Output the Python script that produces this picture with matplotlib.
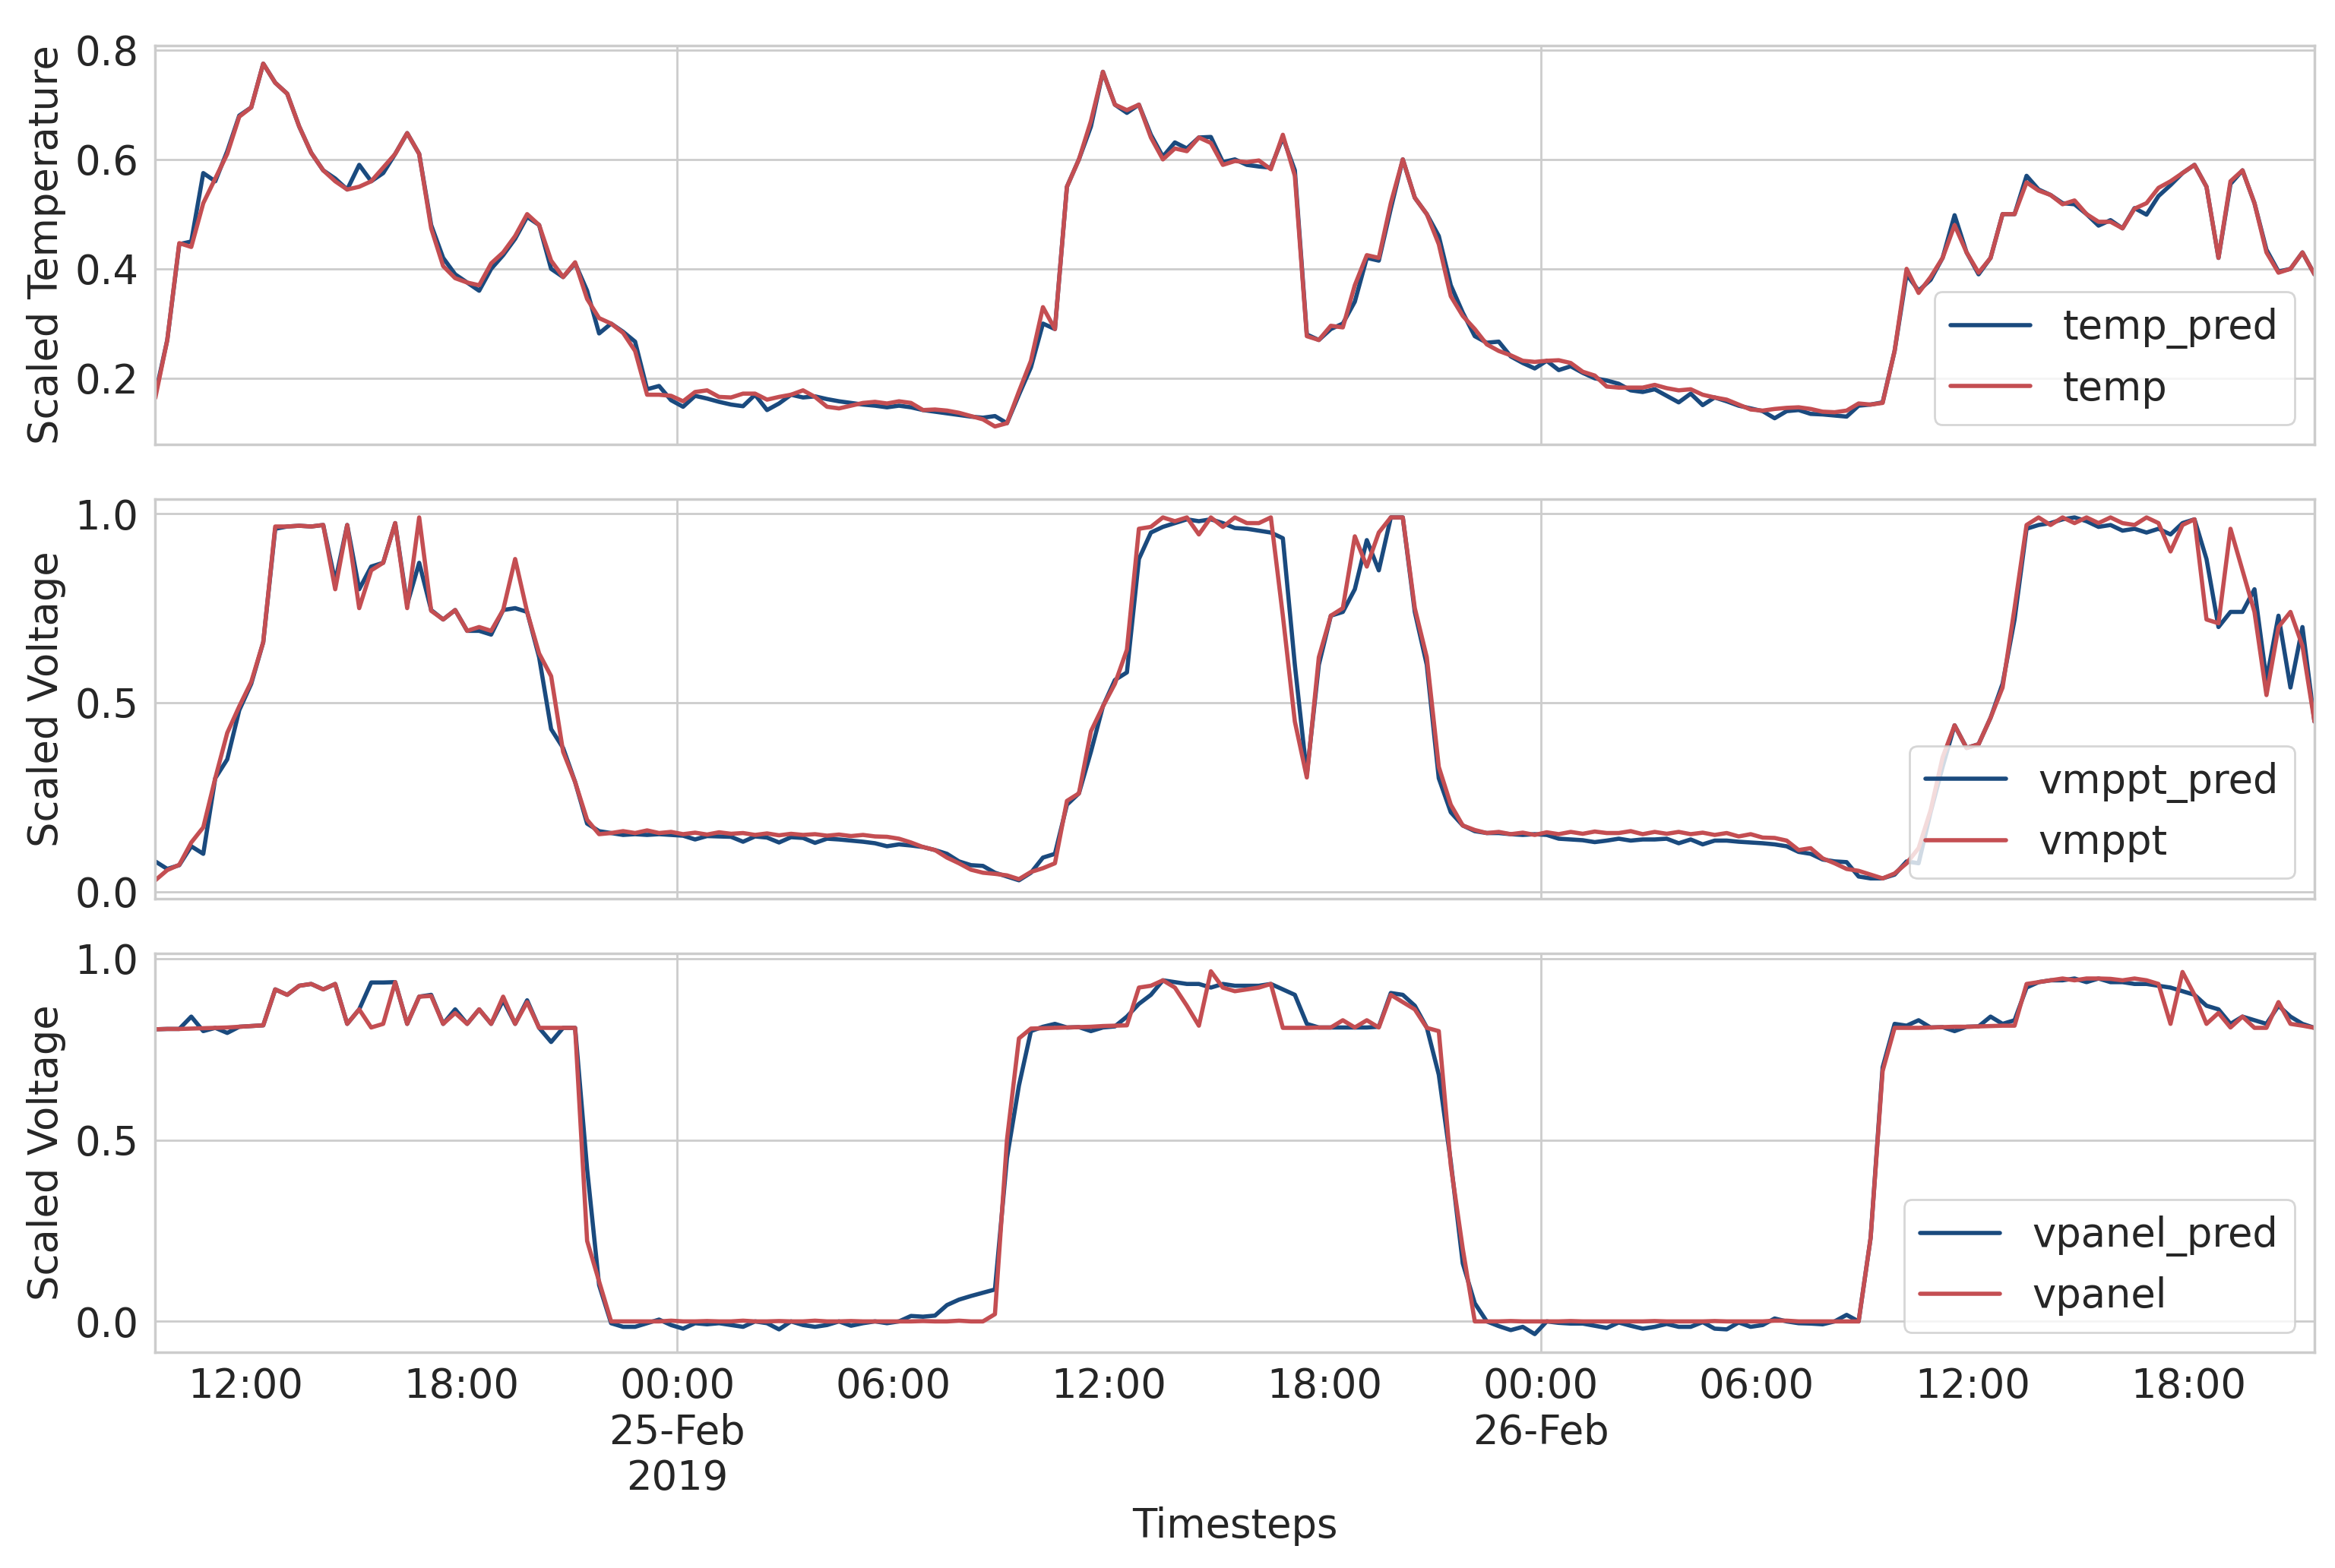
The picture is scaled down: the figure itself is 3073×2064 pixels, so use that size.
import matplotlib
matplotlib.use('Agg')
import matplotlib.pyplot as plt
import matplotlib.dates as mdates
from matplotlib.ticker import MultipleLocator, FuncFormatter
import pandas as pd
import seaborn as sns

# 20-minute samples, 24 Feb 2019 09:30 -> 26 Feb 2019 21:30
times = pd.date_range('2019-02-24 09:30', periods=181, freq='20min')

temp = [
    0.164, 0.27, 0.447, 0.44, 0.52, 0.565, 0.61, 0.678, 0.695, 0.775,
    0.74, 0.72, 0.66, 0.612, 0.58, 0.56, 0.545, 0.55, 0.56, 0.585,
    0.61, 0.648, 0.61, 0.474, 0.405, 0.383, 0.375, 0.37, 0.41, 0.43,
    0.46, 0.50, 0.48, 0.415, 0.385, 0.412, 0.345, 0.31, 0.30, 0.283,
    0.25, 0.17, 0.17, 0.168, 0.158, 0.175, 0.178, 0.166, 0.165, 0.172,
    0.172, 0.161, 0.166, 0.170, 0.178, 0.166, 0.148, 0.145, 0.150, 0.155,
    0.157, 0.154, 0.158, 0.155, 0.142, 0.143, 0.141, 0.137, 0.131, 0.125,
    0.112, 0.118, 0.176, 0.232, 0.33, 0.29, 0.55, 0.60, 0.67, 0.76,
    0.70, 0.69, 0.70, 0.64, 0.60, 0.62, 0.615, 0.64, 0.63, 0.59,
    0.597, 0.595, 0.598, 0.582, 0.645, 0.57, 0.277, 0.27, 0.296, 0.293,
    0.37, 0.425, 0.42, 0.52, 0.60, 0.53, 0.50, 0.445, 0.35, 0.314,
    0.29, 0.262, 0.250, 0.242, 0.232, 0.230, 0.232, 0.233, 0.228, 0.212,
    0.205, 0.185, 0.183, 0.183, 0.183, 0.188, 0.182, 0.178, 0.180, 0.170,
    0.165, 0.161, 0.152, 0.143, 0.141, 0.144, 0.146, 0.147, 0.144, 0.139,
    0.138, 0.141, 0.154, 0.152, 0.155, 0.25, 0.40, 0.356, 0.385, 0.42,
    0.48, 0.43, 0.393, 0.42, 0.50, 0.50, 0.558, 0.543, 0.535, 0.518,
    0.525, 0.50, 0.486, 0.486, 0.474, 0.51, 0.52, 0.548, 0.56, 0.575,
    0.59, 0.55, 0.42, 0.56, 0.58, 0.52, 0.43, 0.393, 0.40, 0.43, 0.39,
]
temp_pred = [
    0.17, 0.27, 0.445, 0.45, 0.575, 0.56, 0.615, 0.68, 0.695, 0.775,
    0.74, 0.72, 0.66, 0.612, 0.58, 0.565, 0.545, 0.59, 0.56, 0.575,
    0.61, 0.648, 0.61, 0.48, 0.42, 0.39, 0.375, 0.36, 0.40, 0.425,
    0.455, 0.495, 0.48, 0.40, 0.385, 0.41, 0.36, 0.282, 0.30, 0.285,
    0.267, 0.18, 0.186, 0.16, 0.148, 0.168, 0.163, 0.157, 0.152, 0.149,
    0.170, 0.142, 0.154, 0.170, 0.165, 0.167, 0.162, 0.158, 0.155, 0.152,
    0.150, 0.147, 0.150, 0.147, 0.142, 0.139, 0.136, 0.133, 0.130, 0.128,
    0.131, 0.118, 0.17, 0.22, 0.30, 0.29, 0.55, 0.60, 0.66, 0.76,
    0.70, 0.685, 0.70, 0.645, 0.605, 0.631, 0.62, 0.64, 0.641, 0.595,
    0.60, 0.59, 0.587, 0.585, 0.64, 0.58, 0.28, 0.27, 0.29, 0.30,
    0.34, 0.42, 0.415, 0.51, 0.60, 0.53, 0.50, 0.46, 0.37, 0.32,
    0.277, 0.265, 0.267, 0.24, 0.228, 0.218, 0.232, 0.215, 0.222, 0.21,
    0.20, 0.196, 0.190, 0.178, 0.175, 0.180, 0.168, 0.156, 0.172, 0.151,
    0.165, 0.158, 0.150, 0.145, 0.140, 0.127, 0.140, 0.142, 0.135, 0.134,
    0.132, 0.130, 0.150, 0.152, 0.156, 0.25, 0.39, 0.36, 0.38, 0.42,
    0.498, 0.43, 0.39, 0.42, 0.50, 0.50, 0.57, 0.545, 0.535, 0.52,
    0.518, 0.50, 0.479, 0.489, 0.474, 0.511, 0.499, 0.533, 0.553, 0.575,
    0.59, 0.55, 0.42, 0.555, 0.58, 0.52, 0.435, 0.395, 0.40, 0.43, 0.39,
]

vmppt = [
    0.03, 0.057, 0.071, 0.13, 0.17, 0.30, 0.42, 0.49, 0.555, 0.66,
    0.966, 0.966, 0.968, 0.966, 0.97, 0.80, 0.97, 0.75, 0.85, 0.87,
    0.975, 0.75, 0.99, 0.743, 0.72, 0.745, 0.69, 0.70, 0.69, 0.745,
    0.88, 0.74, 0.63, 0.57, 0.37, 0.29, 0.19, 0.152, 0.155, 0.16,
    0.155, 0.162, 0.155, 0.158, 0.152, 0.156, 0.151, 0.157, 0.153, 0.155,
    0.150, 0.154, 0.149, 0.153, 0.150, 0.152, 0.148, 0.151, 0.147, 0.150,
    0.146, 0.145, 0.14, 0.13, 0.118, 0.11, 0.09, 0.075, 0.058, 0.05,
    0.047, 0.043, 0.033, 0.052, 0.062, 0.075, 0.24, 0.26, 0.424, 0.49,
    0.55, 0.64, 0.96, 0.965, 0.99, 0.98, 0.99, 0.945, 0.99, 0.965,
    0.99, 0.975, 0.975, 0.99, 0.73, 0.45, 0.302, 0.62, 0.73, 0.75,
    0.94, 0.86, 0.95, 0.99, 0.99, 0.75, 0.62, 0.33, 0.23, 0.175,
    0.163, 0.155, 0.158, 0.152, 0.156, 0.150, 0.157, 0.152, 0.158, 0.153,
    0.159, 0.155, 0.155, 0.16, 0.152, 0.158, 0.153, 0.158, 0.152, 0.156,
    0.15, 0.155, 0.146, 0.152, 0.143, 0.142, 0.135, 0.11, 0.115, 0.088,
    0.075, 0.06, 0.055, 0.045, 0.035, 0.048, 0.075, 0.115, 0.215, 0.355,
    0.44, 0.38, 0.39, 0.46, 0.54, 0.75, 0.97, 0.99, 0.97, 0.99,
    0.975, 0.99, 0.975, 0.99, 0.975, 0.97, 0.99, 0.975, 0.90, 0.97,
    0.985, 0.72, 0.71, 0.96, 0.85, 0.74, 0.52, 0.70, 0.74, 0.65, 0.45,
]
vmppt_pred = [
    0.08, 0.06, 0.07, 0.12, 0.10, 0.30, 0.35, 0.48, 0.55, 0.66,
    0.96, 0.966, 0.968, 0.966, 0.97, 0.82, 0.97, 0.80, 0.86, 0.87,
    0.975, 0.76, 0.87, 0.745, 0.72, 0.745, 0.69, 0.69, 0.68, 0.745,
    0.75, 0.74, 0.62, 0.43, 0.38, 0.29, 0.18, 0.16, 0.155, 0.15,
    0.152, 0.150, 0.152, 0.150, 0.148, 0.138, 0.147, 0.146, 0.145, 0.132,
    0.146, 0.143, 0.130, 0.144, 0.142, 0.129, 0.140, 0.138, 0.135, 0.132,
    0.128, 0.12, 0.125, 0.122, 0.118, 0.11, 0.10, 0.08, 0.07, 0.068,
    0.05, 0.04, 0.03, 0.05, 0.09, 0.1, 0.23, 0.26, 0.37, 0.49,
    0.56, 0.58, 0.88, 0.95, 0.965, 0.975, 0.985, 0.98, 0.985, 0.975,
    0.962, 0.96, 0.955, 0.95, 0.935, 0.60, 0.31, 0.60, 0.73, 0.74,
    0.80, 0.93, 0.85, 0.99, 0.99, 0.74, 0.60, 0.30, 0.21, 0.175,
    0.16, 0.155, 0.155, 0.152, 0.150, 0.152, 0.150, 0.140, 0.138, 0.136,
    0.131, 0.135, 0.14, 0.135, 0.138, 0.138, 0.14, 0.128, 0.138, 0.125,
    0.135, 0.135, 0.132, 0.13, 0.128, 0.125, 0.12, 0.105, 0.10, 0.085,
    0.08, 0.078, 0.04, 0.035, 0.035, 0.045, 0.08, 0.075, 0.21, 0.33,
    0.44, 0.38, 0.39, 0.46, 0.55, 0.72, 0.96, 0.97, 0.975, 0.985,
    0.99, 0.98, 0.965, 0.97, 0.955, 0.96, 0.95, 0.96, 0.945, 0.975,
    0.985, 0.88, 0.70, 0.74, 0.74, 0.80, 0.56, 0.73, 0.54, 0.70, 0.45,
]

vpanel = [
    0.805, 0.806, 0.806, 0.807, 0.808, 0.809, 0.810, 0.812, 0.814, 0.816,
    0.915, 0.90, 0.925, 0.93, 0.915, 0.93, 0.82, 0.86, 0.81, 0.82,
    0.935, 0.82, 0.895, 0.897, 0.82, 0.85, 0.82, 0.86, 0.82, 0.895,
    0.82, 0.88, 0.809, 0.809, 0.809, 0.809, 0.222, 0.11, 0.0, 0.0,
    0.0, 0.0, 0.0, 0.002, 0.0, 0.0, 0.001, 0.0, 0.0, 0.002,
    0.0, 0.0, 0.001, 0.0, 0.0, 0.002, 0.0, 0.0, 0.001, 0.0,
    0.0, 0.0, 0.0, 0.0, 0.001, 0.0, 0.0, 0.002, 0.0, 0.0,
    0.02, 0.50, 0.78, 0.807, 0.808, 0.809, 0.81, 0.811, 0.812, 0.814,
    0.815, 0.816, 0.92, 0.925, 0.94, 0.92, 0.87, 0.815, 0.965, 0.92,
    0.91, 0.915, 0.92, 0.93, 0.809, 0.809, 0.809, 0.81, 0.81, 0.83,
    0.81, 0.83, 0.81, 0.90, 0.88, 0.86, 0.809, 0.80, 0.43, 0.20,
    0.0, 0.0, 0.0, 0.001, 0.0, 0.0, 0.0, 0.0, 0.001, 0.0,
    0.0, 0.0, 0.0, 0.0, 0.0, 0.001, 0.0, 0.0, 0.0, 0.0,
    0.001, 0.0, 0.0, 0.0, 0.0, 0.002, 0.002, 0.0, 0.0, 0.0,
    0.0, 0.0, 0.0, 0.23, 0.69, 0.809, 0.809, 0.809, 0.81, 0.811,
    0.812, 0.812, 0.813, 0.814, 0.815, 0.815, 0.93, 0.935, 0.94, 0.945,
    0.94, 0.945, 0.945, 0.944, 0.94, 0.945, 0.94, 0.93, 0.82, 0.963,
    0.90, 0.82, 0.85, 0.81, 0.84, 0.809, 0.809, 0.88, 0.82, 0.815, 0.809,
]
vpanel_pred = [
    0.805, 0.806, 0.806, 0.84, 0.80, 0.809, 0.795, 0.812, 0.814, 0.816,
    0.915, 0.90, 0.925, 0.93, 0.915, 0.93, 0.82, 0.86, 0.934, 0.934,
    0.935, 0.82, 0.895, 0.90, 0.82, 0.86, 0.82, 0.86, 0.82, 0.885,
    0.82, 0.885, 0.809, 0.77, 0.809, 0.809, 0.42, 0.10, -0.005, -0.015,
    -0.015, -0.005, 0.005, -0.01, -0.02, -0.005, -0.008, -0.005, -0.01, -0.015,
    0.0, -0.005, -0.022, 0.0, -0.01, -0.015, -0.01, 0.0, -0.012, -0.005,
    0.0, -0.005, 0.0, 0.015, 0.013, 0.016, 0.045, 0.06, 0.07, 0.079,
    0.088, 0.45, 0.65, 0.80, 0.812, 0.82, 0.81, 0.811, 0.80, 0.81,
    0.813, 0.84, 0.875, 0.90, 0.94, 0.935, 0.93, 0.93, 0.92, 0.93,
    0.925, 0.925, 0.925, 0.93, 0.915, 0.90, 0.82, 0.81, 0.81, 0.81,
    0.81, 0.81, 0.812, 0.905, 0.90, 0.87, 0.81, 0.68, 0.44, 0.16,
    0.05, 0.0, -0.013, -0.024, -0.015, -0.035, 0.0, -0.004, -0.006, -0.006,
    -0.012, -0.018, -0.003, -0.012, -0.02, -0.015, -0.007, -0.015, -0.015, -0.002,
    -0.02, -0.022, -0.003, -0.015, -0.01, 0.008, 0.0, -0.005, -0.006, -0.008,
    0.0, 0.018, 0.0, 0.23, 0.70, 0.82, 0.815, 0.83, 0.81, 0.811,
    0.80, 0.812, 0.813, 0.84, 0.82, 0.83, 0.92, 0.935, 0.94, 0.94,
    0.945, 0.935, 0.945, 0.935, 0.935, 0.93, 0.93, 0.925, 0.92, 0.91,
    0.90, 0.87, 0.86, 0.82, 0.84, 0.83, 0.82, 0.87, 0.84, 0.82, 0.809,
]

names = ['temp', 'vmppt', 'vpanel']
ylabels = ['Scaled Temperature', 'Scaled Voltage', 'Scaled Voltage']
ysteps = [0.2, 0.5, 0.5]

BLUE = '#1a4a7e'
RED = '#c44e52'

sns.set_style('whitegrid')
plt.rcParams['font.family'] = ['DejaVu Sans']
plt.rcParams.update({
    'axes.labelsize': 19,
    'xtick.labelsize': 19,
    'ytick.labelsize': 19,
    'legend.fontsize': 19,
    'axes.edgecolor': '.8',
    'axes.linewidth': 1.25,
    'grid.linewidth': 1.0,
    'xtick.major.pad': 7,
    'xtick.minor.pad': 7,
    'ytick.major.pad': 8,
})

fig, axes = plt.subplots(3, 1, sharex=True, figsize=(15.365, 10.32), dpi=200)
fig.subplots_adjust(left=0.0665, right=0.9912, top=0.971, bottom=0.1376, hspace=0.137)

series = [(temp_pred, temp), (vmppt_pred, vmppt), (vpanel_pred, vpanel)]
for ax, (pred, true), name, ylab, step in zip(axes, series, names, ylabels, ysteps):
    ax.plot(times, pred, color=BLUE, lw=2.0, label=name + '_pred')
    ax.plot(times, true, color=RED, lw=2.0, label=name)
    ax.set_ylabel(ylab)
    ax.yaxis.set_major_locator(MultipleLocator(step))
    ax.legend(loc='lower right')
    ax.tick_params(which='both', length=0)

first_midnight = times[0].normalize() + pd.Timedelta(days=1)

def day_label(x, pos=None):
    d = mdates.num2date(x).replace(tzinfo=None)
    if pd.Timestamp(d) == first_midnight:
        return d.strftime('%H:%M\n%d-%b\n%Y')
    return d.strftime('%H:%M\n%d-%b')

ax = axes[-1]
ax.set_xlim(times[0], times[-1])
ax.xaxis.set_major_locator(mdates.HourLocator(byhour=[0]))
ax.xaxis.set_major_formatter(FuncFormatter(day_label))
ax.xaxis.set_minor_locator(mdates.HourLocator(byhour=[6, 12, 18]))
ax.xaxis.set_minor_formatter(mdates.DateFormatter('%H:%M'))
for lab in ax.get_xticklabels(which='both'):
    lab.set_rotation(0)
    lab.set_ha('center')
ax.set_xlabel('Timesteps')

fig.savefig('out.png', dpi=200)
